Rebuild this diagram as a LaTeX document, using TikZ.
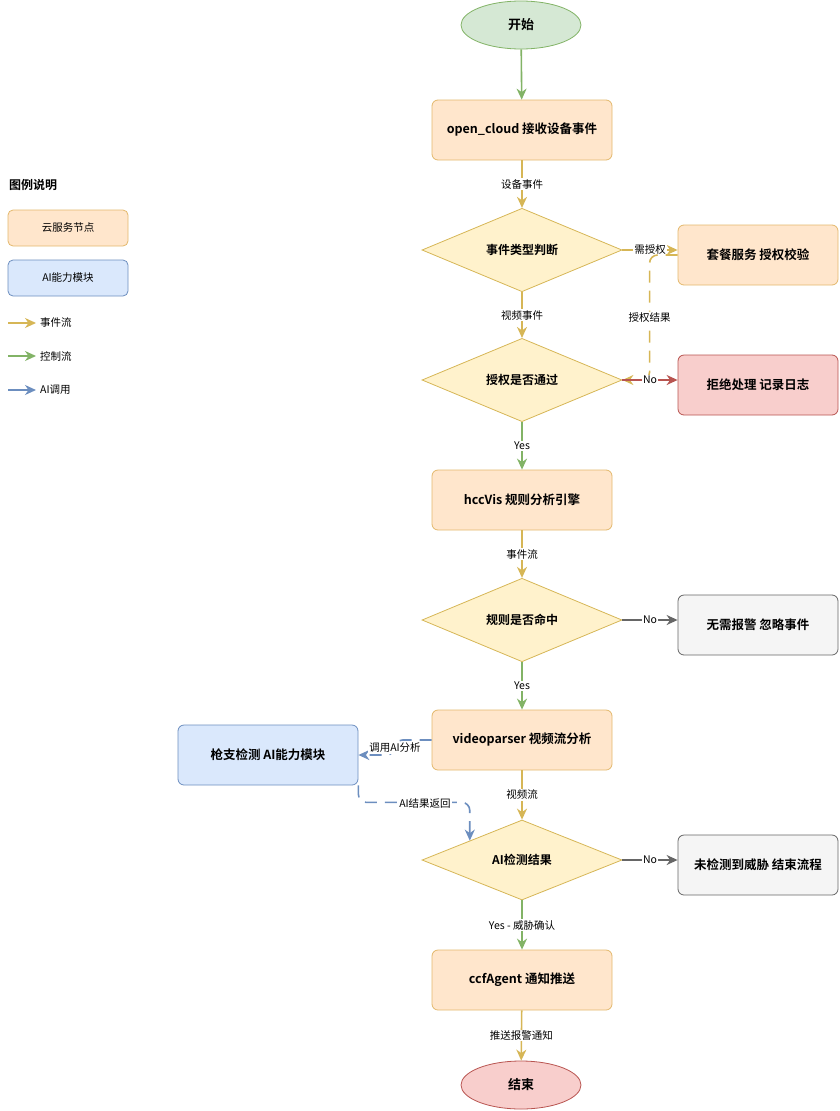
\documentclass[tikz,border=0pt]{standalone}
\usepackage{fontspec}
\setmainfont{Noto Sans CJK SC}[BoldFont={Noto Sans CJK SC Bold}]
\usetikzlibrary{shapes.geometric,arrows.meta,calc}
\definecolor{orgfill}{HTML}{FFE6CC}
\definecolor{orgline}{HTML}{E3B86C}
\definecolor{yelfill}{HTML}{FFF2CC}
\definecolor{yelline}{HTML}{D6B656}
\definecolor{grnfill}{HTML}{D5E8D4}
\definecolor{grnline}{HTML}{82B366}
\definecolor{redfill}{HTML}{F8CECC}
\definecolor{redline}{HTML}{B85450}
\definecolor{blufill}{HTML}{DAE8FC}
\definecolor{bluline}{HTML}{6C8EBF}
\definecolor{gryfill}{HTML}{F5F5F5}
\definecolor{gryline}{HTML}{666666}
\tikzset{
  box/.style={rectangle,rounded corners=6pt,line width=0.8pt,minimum width=180pt,minimum height=60pt,font=\fontsize{12.5}{15}\selectfont\bfseries,inner sep=2pt},
  sidebox/.style={box,minimum width=160pt},
  svc/.style={box,fill=orgfill,draw=orgline},
  dec/.style={diamond,fill=yelfill,draw=yelline,line width=0.8pt,minimum width=200pt,minimum height=80pt,inner sep=0pt,font=\fontsize{12}{14}\selectfont\bfseries},
  term/.style={ellipse,line width=0.8pt,minimum width=120pt,minimum height=48pt,font=\fontsize{13}{15}\selectfont\bfseries},
  tip/.style={-{Stealth[length=11pt,width=10pt,inset=3.5pt]}},
  conn/.style={tip,line width=1.6pt},
  evflow/.style={conn,draw=yelline},
  ctlflow/.style={conn,draw=grnline},
  aiflow/.style={conn,draw=bluline,dash pattern=on 12pt off 8pt,rounded corners=8pt},
  lbl/.style={fill=white,inner sep=1pt,font=\fontsize{10.5}{12}\selectfont,text=black},
  legbox/.style={rectangle,rounded corners=5pt,line width=0.8pt,minimum width=120pt,minimum height=36pt,font=\fontsize{10.5}{12}\selectfont},
  legtxt/.style={anchor=west,font=\fontsize{10.5}{12}\selectfont,inner sep=0pt},
}
\begin{document}
\begin{tikzpicture}[x=1pt,y=-1pt]
\useasboundingbox (0,0) rectangle (839,1111);
% main column
\node[term,fill=grnfill,draw=grnline] (start) at (521,25) {开始};
\node[svc] (oc) at (522,130) {open\_cloud 接收设备事件};
\node[dec] (d1) at (522,250) {事件类型判断};
\node[sidebox,fill=orgfill,draw=orgline] (pkg) at (758,255) {套餐服务 授权校验};
\node[dec] (d2) at (522,380) {授权是否通过};
\node[sidebox,fill=redfill,draw=redline] (rej) at (758,385) {拒绝处理 记录日志};
\node[svc] (hcc) at (522,500) {hccVis 规则分析引擎};
\node[dec] (d3) at (522,620) {规则是否命中};
\node[sidebox,fill=gryfill,draw=gryline] (ign) at (758,625) {无需报警 忽略事件};
\node[svc] (vp) at (522,740) {videoparser 视频流分析};
\node[box,fill=blufill,draw=bluline] (ai) at (268,755) {枪支检测 AI能力模块};
\node[dec] (d4) at (522,860) {AI检测结果};
\node[sidebox,fill=gryfill,draw=gryline] (nth) at (758,865) {未检测到威胁 结束流程};
\node[svc] (ccf) at (522,980) {ccfAgent 通知推送};
\node[term,fill=redfill,draw=redline] (end) at (521,1085) {结束};
% connectors
\draw[ctlflow] (start) -- (oc);
\draw[evflow] (oc) -- node[lbl]{设备事件} (d1);
\draw[evflow] (d1.east) -- node[lbl,pos=0.5]{需授权} (pkg.west |- d1.east);
\draw[evflow] (d1) -- node[lbl]{视频事件} (d2);
\draw[evflow,dash pattern=on 12pt off 8pt,rounded corners=8pt] (pkg.west) -- ++(-28,0) -- node[lbl,pos=0.5]{授权结果} ++(0,125) -- (d2.east);
\draw[conn,draw=redline] (d2.east) -- node[lbl]{No} (rej.west |- d2.east);
\draw[ctlflow] (d2) -- node[lbl]{Yes} (hcc);
\draw[evflow] (hcc) -- node[lbl]{事件流} (d3);
\draw[conn,draw=gryline] (d3.east) -- node[lbl]{No} (ign.west |- d3.east);
\draw[ctlflow] (d3) -- node[lbl]{Yes} (vp);
\draw[aiflow] (vp.west) -- ++(-37,0) -- ++(0,15) -- (ai.east);
\node[lbl] (calllbl) at (395,748) {调用AI分析};
\coordinate (d4edge) at ($(d4.north)!0.52!(d4.west)$);
\draw[aiflow] (ai.south east) -- ++(0,17) -| (d4edge);
\node[lbl] (retlbl) at (425,803) {AI结果返回};
\draw[evflow] (vp) -- node[lbl]{视频流} (d4);
\draw[conn,draw=gryline] (d4.east) -- node[lbl]{No} (nth.west |- d4.east);
\draw[ctlflow] (d4) -- node[lbl]{Yes - 威胁确认} (ccf);
\draw[evflow] (ccf) -- node[lbl]{推送报警通知} (end);
% legend
\node[anchor=west,inner sep=0pt,font=\fontsize{12}{14}\selectfont\bfseries] (legt) at (9,185) {图例说明};
\node[legbox,fill=orgfill,draw=orgline] (lg1) at (68,228) {云服务节点};
\node[legbox,fill=blufill,draw=bluline] (lg2) at (68,278) {AI能力模块};
\coordinate (la1) at (8,323); \coordinate (lb1) at (36,323);
\coordinate (la2) at (8,356); \coordinate (lb2) at (36,356);
\coordinate (la3) at (8,390); \coordinate (lb3) at (36,390);
\draw[evflow] (la1) -- (lb1);
\draw[ctlflow] (la2) -- (lb2);
\draw[conn,draw=bluline] (la3) -- (lb3);
\node[legtxt] (lt1) at (40,323) {事件流};
\node[legtxt] (lt2) at (40,356) {控制流};
\node[legtxt] (lt3) at (40,390) {AI调用};
\end{tikzpicture}
\end{document}
